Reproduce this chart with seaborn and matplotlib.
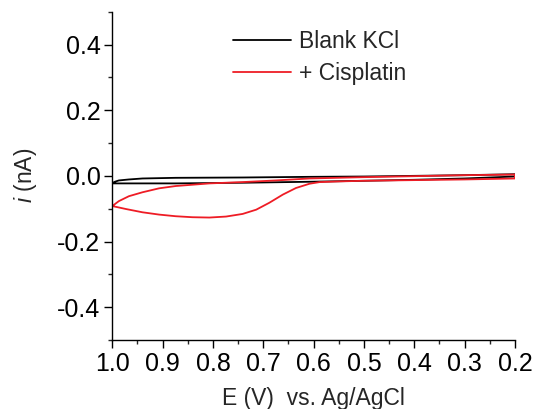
import matplotlib
matplotlib.use("Agg")
import matplotlib.pyplot as plt
from matplotlib.ticker import MultipleLocator
import seaborn as sns
import pandas as pd

# --- data ---
# Blank KCl
blank_upper_E = [1.0, 0.995, 0.987, 0.967, 0.94, 0.874, 0.741, 0.608, 0.5, 0.4, 0.3, 0.2]
blank_upper_I = [-0.022, -0.018, -0.014, -0.011, -0.008, -0.006, -0.005, -0.003,
                 -0.002, 0.0, 0.002, 0.005]
blank_lower_E = [1.0, 0.874, 0.741, 0.608, 0.5, 0.4, 0.3, 0.2]
blank_lower_I = [-0.023, -0.023, -0.021, -0.018, -0.015, -0.012, -0.008, -0.002]

# + Cisplatin
cis_lower_E = [1.0, 0.973, 0.94, 0.907, 0.874, 0.841, 0.807, 0.774, 0.741,
               0.714, 0.688, 0.661, 0.635, 0.608, 0.588, 0.55, 0.5, 0.4, 0.3, 0.2]
cis_lower_I = [-0.092, -0.101, -0.111, -0.118, -0.123, -0.126, -0.127, -0.124,
               -0.116, -0.103, -0.082, -0.057, -0.037, -0.024, -0.019, -0.017,
               -0.015, -0.013, -0.011, -0.008]
cis_upper_E = [1.0, 0.987, 0.967, 0.94, 0.907, 0.874, 0.807, 0.741, 0.675,
               0.608, 0.5, 0.4, 0.3, 0.2]
cis_upper_I = [-0.092, -0.077, -0.062, -0.050, -0.038, -0.031, -0.023, -0.019,
               -0.014, -0.008, -0.004, -0.001, 0.002, 0.004]

labels = ["Blank KCl", "+ Cisplatin"]
colors = ["#000000", "#EE1C25"]

x_ticks = [1.0, 0.9, 0.8, 0.7, 0.6, 0.5, 0.4, 0.3, 0.2]
y_ticks = [-0.4, -0.2, 0.0, 0.2, 0.4]


def loop(lower_E, lower_I, upper_E, upper_I, name):
    E = list(lower_E) + list(reversed(upper_E))
    I = list(lower_I) + list(reversed(upper_I))
    return pd.DataFrame({"E": E, "I": I, "curve": name})


df = pd.concat([
    loop(blank_lower_E, blank_lower_I, blank_upper_E, blank_upper_I, labels[0]),
    loop(cis_lower_E, cis_lower_I, cis_upper_E, cis_upper_I, labels[1]),
], ignore_index=True)

sns.set_style("ticks")
plt.rcParams["font.family"] = ["Liberation Sans", "DejaVu Sans"]
plt.rcParams["mathtext.fontset"] = "custom"
plt.rcParams["mathtext.it"] = "Liberation Sans:italic"
plt.rcParams["mathtext.rm"] = "Liberation Sans"

fig = plt.figure(figsize=(5.33, 4.09), dpi=100)
ax = fig.add_axes([0.2107, 0.1687, 0.966 - 0.2107, 0.9714 - 0.1687])

sns.lineplot(data=df, x="E", y="I", hue="curve", palette=dict(zip(labels, colors)),
             sort=False, estimator=None, linewidth=1.3, ax=ax)

ax.set_xlim(1.0, 0.2)
ax.set_ylim(-0.5, 0.5)
ax.set_xticks(x_ticks)
ax.set_xticklabels([f"{v:.1f}" for v in x_ticks])
ax.set_yticks(y_ticks)
ax.set_yticklabels([f"{v:.1f}" for v in y_ticks])
ax.xaxis.set_minor_locator(MultipleLocator(0.05))
ax.yaxis.set_minor_locator(MultipleLocator(0.1))
ax.tick_params(which="major", direction="out", length=5.5, width=1.0,
               labelsize=18, colors="black", pad=3)
ax.tick_params(which="minor", direction="out", length=3, width=1.0)
for s in ["left", "bottom"]:
    ax.spines[s].set_linewidth(1.0)
    ax.spines[s].set_color("black")
sns.despine(ax=ax)

ax.set_xlabel("E (V)  vs. Ag/AgCl", fontsize=16.5, labelpad=8)
ax.set_ylabel("$\\it{i}$ (nA)", fontsize=16.5, labelpad=13)

handles, labs = ax.get_legend_handles_labels()
ax.legend(handles, labs, loc="center left", bbox_to_anchor=(0.4366, 0.859),
          bbox_transform=fig.transFigure, frameon=False, fontsize=16.5,
          handlelength=2.55, handletextpad=0.33, labelspacing=0.42,
          borderpad=0, borderaxespad=0)

fig.savefig("out.png", dpi=100)
